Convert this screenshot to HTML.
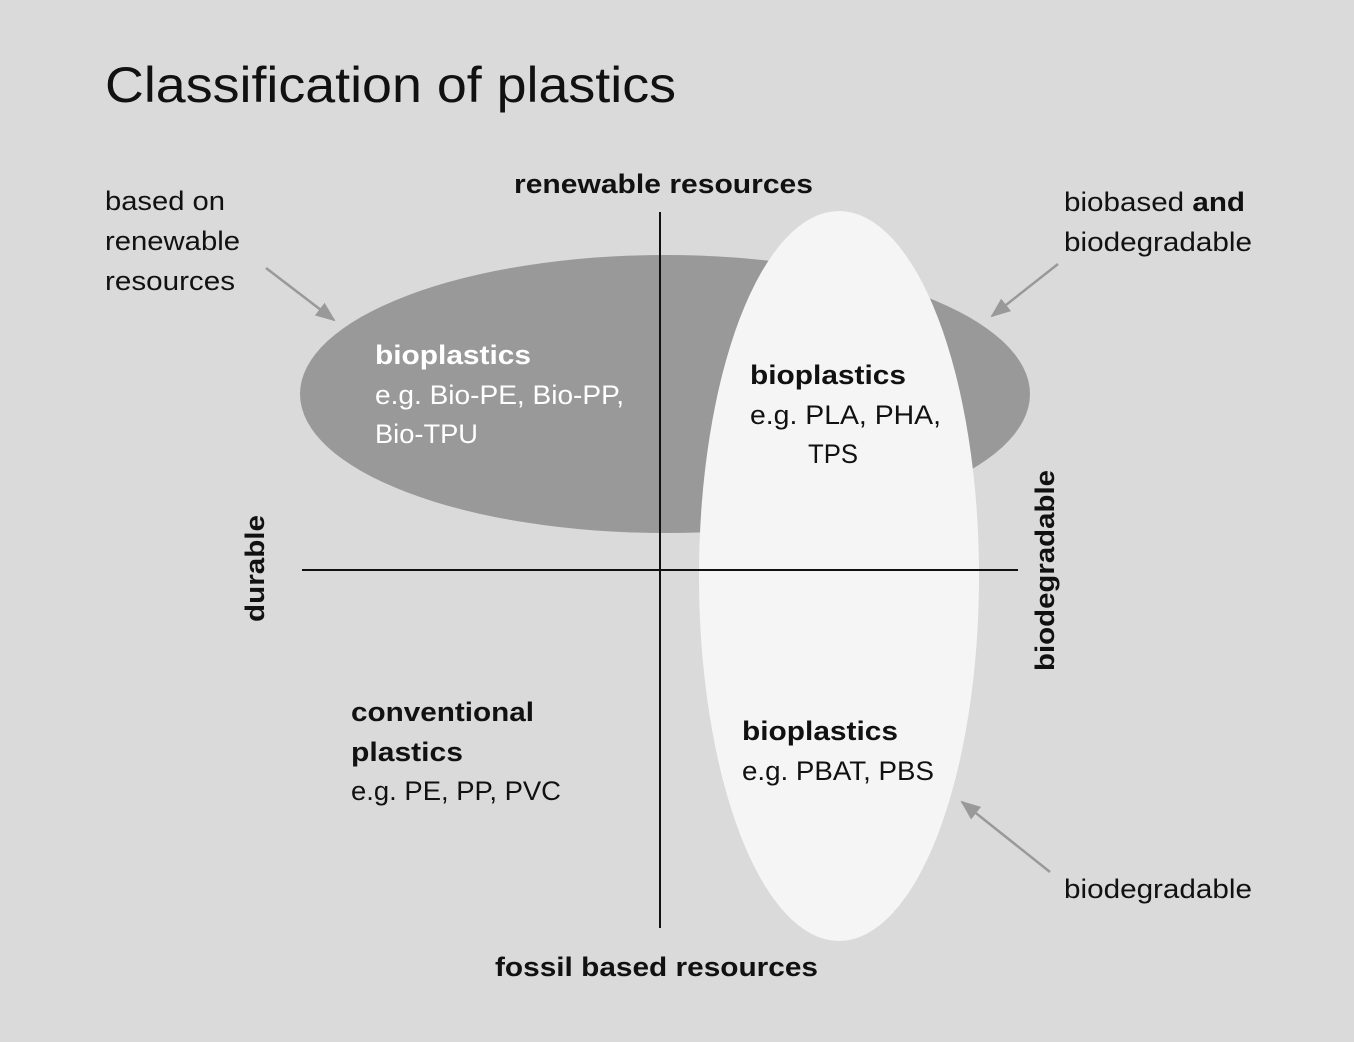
<!DOCTYPE html>
<html><head><meta charset="utf-8"><style>
html,body{margin:0;padding:0;background:#dadada;}
svg{display:block;font-family:"Liberation Sans",sans-serif;}
</style></head><body>
<svg width="1354" height="1042" viewBox="0 0 1354 1042" xmlns="http://www.w3.org/2000/svg">
<rect width="1354" height="1042" fill="#dadada"/>
<defs>
<marker id="b" markerWidth="20" markerHeight="16" refX="18" refY="8" orient="auto" markerUnits="userSpaceOnUse"><path d="M0,0 L20,8 L0,16 z" fill="#999"/></marker></defs>
<text x="105" y="102" font-size="50" fill="#111" textLength="571" lengthAdjust="spacingAndGlyphs">Classification of plastics</text>
<ellipse cx="665" cy="394" rx="365" ry="139" fill="#999"/>
<ellipse cx="839" cy="576" rx="140" ry="365" fill="#f5f5f5"/>
<line x1="660" y1="212" x2="660" y2="928" stroke="#111" stroke-width="2"/>
<line x1="302" y1="570" x2="1018" y2="570" stroke="#111" stroke-width="2"/>
<g stroke="#999" stroke-width="2.5">
<line x1="266" y1="268" x2="334" y2="320" marker-end="url(#b)"/>
<line x1="1058" y1="264" x2="992" y2="316" marker-end="url(#b)"/>
<line x1="1050" y1="872" x2="962" y2="802" marker-end="url(#b)"/>
</g>
<g font-size="27" fill="#111" lengthAdjust="spacingAndGlyphs">
<text x="514" y="193" font-weight="bold" textLength="299" lengthAdjust="spacingAndGlyphs">renewable resources</text>
<text x="495" y="976" font-weight="bold" textLength="323" lengthAdjust="spacingAndGlyphs">fossil based resources</text>
<text transform="translate(264,622) rotate(-90)" font-weight="bold" textLength="107" lengthAdjust="spacingAndGlyphs">durable</text>
<text transform="translate(1054,671) rotate(-90)" font-weight="bold" textLength="201" lengthAdjust="spacingAndGlyphs">biodegradable</text>
<text x="105" y="210" textLength="120" lengthAdjust="spacingAndGlyphs">based on</text>
<text x="105" y="250" textLength="135" lengthAdjust="spacingAndGlyphs">renewable</text>
<text x="105" y="290" textLength="130" lengthAdjust="spacingAndGlyphs">resources</text>
<text x="1064" y="211" textLength="181" lengthAdjust="spacingAndGlyphs">biobased <tspan font-weight="bold">and</tspan></text>
<text x="1064" y="251" textLength="188" lengthAdjust="spacingAndGlyphs">biodegradable</text>
<text x="1064" y="898" textLength="188" lengthAdjust="spacingAndGlyphs">biodegradable</text>
<text x="750" y="384" font-weight="bold" textLength="156" lengthAdjust="spacingAndGlyphs">bioplastics</text>
<text x="750" y="424" textLength="191" lengthAdjust="spacingAndGlyphs">e.g. PLA, PHA,</text>
<text x="808" y="463" textLength="50" lengthAdjust="spacingAndGlyphs">TPS</text>
<text x="742" y="740" font-weight="bold" textLength="156" lengthAdjust="spacingAndGlyphs">bioplastics</text>
<text x="742" y="780" textLength="192" lengthAdjust="spacingAndGlyphs">e.g. PBAT, PBS</text>
<text x="351" y="721" font-weight="bold" textLength="183" lengthAdjust="spacingAndGlyphs">conventional</text>
<text x="351" y="761" font-weight="bold" textLength="112" lengthAdjust="spacingAndGlyphs">plastics</text>
<text x="351" y="800" textLength="210" lengthAdjust="spacingAndGlyphs">e.g. PE, PP, PVC</text>
</g>
<g font-size="27" fill="#fff">
<text x="375" y="364" font-weight="bold" textLength="156" lengthAdjust="spacingAndGlyphs">bioplastics</text>
<text x="375" y="404" textLength="249" lengthAdjust="spacingAndGlyphs">e.g. Bio-PE, Bio-PP,</text>
<text x="375" y="443" textLength="103" lengthAdjust="spacingAndGlyphs">Bio-TPU</text>
</g>
</svg>
</body></html>
